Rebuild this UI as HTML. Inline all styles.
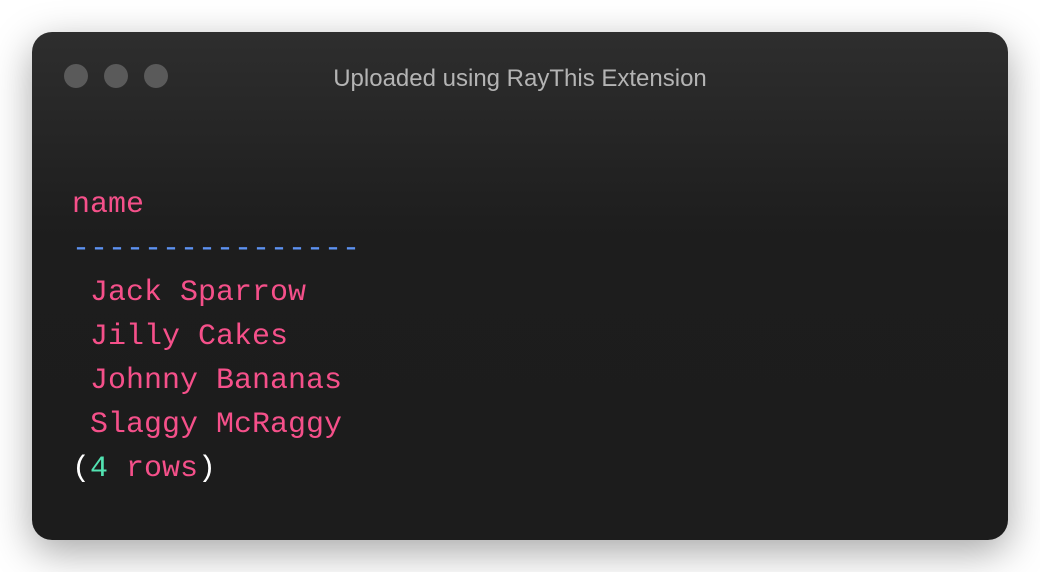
<!DOCTYPE html>
<html><head><style>
html,body{margin:0;padding:0;width:1040px;height:572px;background:#fff;overflow:hidden}
.win{position:absolute;left:32px;top:32px;width:976px;height:508px;border-radius:20px;
background:linear-gradient(180deg,#2e2e2e 0%,#1d1d1d 40%,#1c1c1c 100%);
box-shadow:0 12px 40px rgba(0,0,0,0.35)}
.dot{position:absolute;top:32px;width:24px;height:24px;border-radius:50%;background:#5a5a5a}
.title{position:absolute;left:0;right:0;top:33px;text-align:center;font:24px "Liberation Sans",sans-serif;color:#b4b4b4}
pre{position:absolute;left:40px;top:151px;margin:0;font:30px/44px "Liberation Mono",monospace;color:#f5508a}
.b{color:#5d92f2}.g{color:#52e3b2}.w{color:#fff}
</style></head><body>
<div class="win">
<div class="dot" style="left:32px"></div><div class="dot" style="left:72px"></div><div class="dot" style="left:112px"></div>
<div class="title">Uploaded using RayThis Extension</div>
<pre>name
<span class="b">----------------</span>
 Jack Sparrow
 Jilly Cakes
 Johnny Bananas
 Slaggy McRaggy
<span class="w">(</span><span class="g">4</span> rows<span class="w">)</span></pre>
</div>
</body></html>
